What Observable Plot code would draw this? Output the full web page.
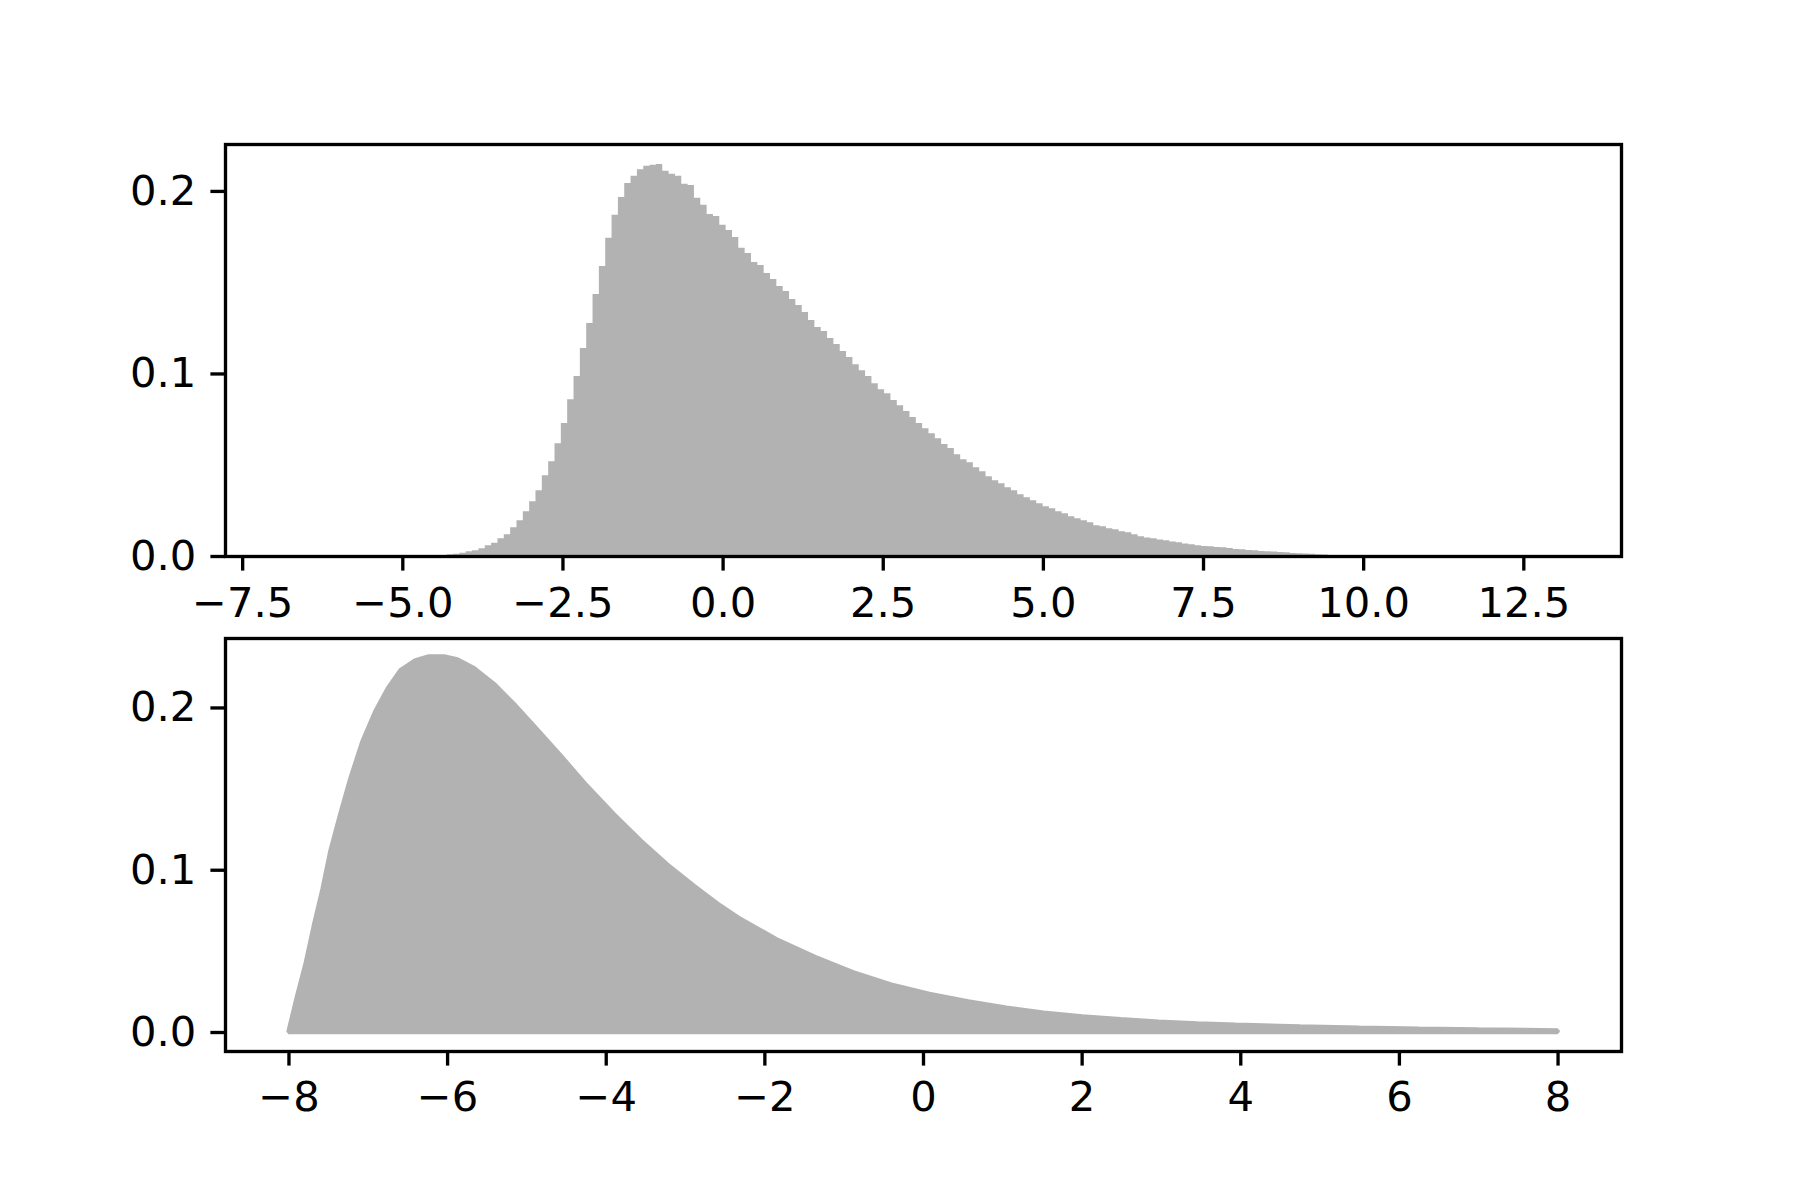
<!DOCTYPE html>
<html>
<head>
<meta charset="utf-8">
<script src="https://cdn.jsdelivr.net/npm/d3@7"></script>
<script src="https://cdn.jsdelivr.net/npm/@observablehq/plot@0.6"></script>
<style>
  html, body { margin: 0; padding: 0; background: #ffffff; }
  #wrap { position: relative; width: 1800px; height: 1200px; background: #ffffff; }
  #top, #bottom { position: absolute; left: 0; }
  #top { top: 0; }
  #bottom { top: 630px; }
</style>
</head>
<body>
<div id="wrap"><div id="top"></div><div id="bottom"></div></div>
<script>
// ---- Top panel: histogram (density), 200 equal bins ----
const binStart = -6.78;
const binWidth = 0.09895;
const histDensity = [
  0.00005, 0, 0, 0, 0, 0, 0, 0, 0, 0,
  0, 0, 0, 0, 0, 0.00005, 0.00005, 0.0001, 0.0001, 0.0001,
  0.0001, 0.0002, 0.0003, 0.0004, 0.0005, 0.0009, 0.0013, 0.0018, 0.0026, 0.0031,
  0.0042, 0.0059, 0.0073, 0.0097, 0.0119, 0.0157, 0.0196, 0.0245, 0.0300, 0.0360,
  0.0442, 0.0519, 0.0618, 0.0728, 0.0859, 0.0986, 0.1139, 0.1276, 0.1435, 0.1589,
  0.1743, 0.1869, 0.1967, 0.2044, 0.2083, 0.2119, 0.2138, 0.2143, 0.2148, 0.2110,
  0.2094, 0.2083, 0.2039, 0.2033, 0.1962, 0.1924, 0.1874, 0.1863, 0.1814, 0.1786,
  0.1748, 0.1688, 0.1660, 0.1611, 0.1594, 0.1551, 0.1518, 0.1479, 0.1452, 0.1408,
  0.1375, 0.1337, 0.1293, 0.1254, 0.1232, 0.1194, 0.1161, 0.1123, 0.1090, 0.1051,
  0.1018, 0.0986, 0.0947, 0.0914, 0.0892, 0.0854, 0.0826, 0.0794, 0.0761, 0.0728,
  0.0700, 0.0673, 0.0645, 0.0613, 0.0591, 0.0558, 0.0530, 0.0514, 0.0486, 0.0464,
  0.0437, 0.0415, 0.0399, 0.0377, 0.0360, 0.0338, 0.0322, 0.0305, 0.0289, 0.0272,
  0.0261, 0.0245, 0.0234, 0.0218, 0.0207, 0.0196, 0.0185, 0.0168, 0.0163, 0.0152,
  0.0146, 0.0135, 0.0130, 0.0119, 0.0108, 0.0102, 0.0097, 0.0091, 0.0086, 0.0080,
  0.0075, 0.0069, 0.0064, 0.0059, 0.0055, 0.0053, 0.0049, 0.0048, 0.0044, 0.0038,
  0.0037, 0.0033, 0.0031, 0.0027, 0.0026, 0.0025, 0.0022, 0.0020, 0.0016, 0.0015,
  0.0014, 0.0013, 0.0009, 0.0008, 0.0006, 0.0004, 0.0003, 0.0003, 0.0002, 0.0002,
  0.0002, 0.0001, 0.0001, 0.0001, 0.0001, 0.0001, 0.00005, 0.00005, 0.00005, 0.00005,
  0, 0, 0, 0, 0, 0, 0, 0, 0, 0,
  0, 0, 0, 0, 0, 0, 0, 0, 0, 0.00005
];
const topXTicks = [-7.5, -5.0, -2.5, 0.0, 2.5, 5.0, 7.5, 10.0, 12.5];
const topYTicks = [0.0, 0.1, 0.2];

// ---- Bottom panel: filled density curve ----
const curveX = [-8.00, -7.89, -7.78, -7.68, -7.57, -7.47, -7.34, -7.22, -7.07, -6.90,
  -6.75, -6.59, -6.40, -6.23, -6.04, -5.87, -5.66, -5.41, -5.16, -4.91,
  -4.57, -4.24, -3.90, -3.56, -3.23, -2.89, -2.56, -2.33, -1.85, -1.36,
  -0.88, -0.40, 0.08, 0.57, 1.05, 1.52, 2.01, 2.49, 2.97, 3.46,
  3.94, 4.75, 5.50, 6.25, 7.00, 8.00];
const curveY = [0.0000, 0.0222, 0.0428, 0.0654, 0.0880, 0.1117, 0.1354, 0.1560, 0.1786, 0.1980,
  0.2115, 0.2228, 0.2290, 0.2314, 0.2314, 0.2296, 0.2242, 0.2145, 0.2022, 0.1889,
  0.1704, 0.1518, 0.1343, 0.1179, 0.1034, 0.0901, 0.0780, 0.0705, 0.0572, 0.0462,
  0.0368, 0.0292, 0.0234, 0.0188, 0.0149, 0.0119, 0.0096, 0.0078, 0.0064, 0.0053,
  0.0045, 0.0034, 0.0026, 0.0020, 0.0015, 0.0010];
const bottomXTicks = [-8, -6, -4, -2, 0, 2, 4, 6, 8];
const bottomYTicks = [0.0, 0.1, 0.2];

// ---- build tables ----
const histRows = histDensity.map((d, i) => ({x: binStart + i * binWidth, y: d}));
histRows.push({x: binStart + histDensity.length * binWidth, y: histDensity[histDensity.length - 1]});
const curveRows = curveX.map((x, i) => ({x, y: curveY[i]}));

const FILL = "#b2b2b2";
const FONT = 41.7;
const TICK = 14.6;
const LW = 3.33;

const common = {
  width: 1800,
  marginLeft: 225,
  marginRight: 179,
  style: {fontFamily: "'DejaVu Sans', sans-serif", fontSize: FONT + "px", color: "#000", background: "transparent", overflow: "visible"}
};

const topPlot = Plot.plot({
  ...common,
  height: 630,
  marginTop: 144,
  marginBottom: 74,
  x: {domain: [-7.768, 14.025]},
  y: {domain: [0, 0.2257]},
  marks: [
    Plot.areaY(histRows, {x: "x", y: "y", curve: "step-after", fill: FILL}),
    Plot.axisX({ticks: topXTicks, tickFormat: d3.format(".1f"), tickSize: TICK, tickPadding: 16, strokeWidth: LW, fontSize: FONT, label: null}),
    Plot.axisY({ticks: topYTicks, tickFormat: d3.format(".1f"), tickSize: TICK, tickPadding: 14.6, strokeWidth: LW, fontSize: FONT, label: null}),
    Plot.frame({stroke: "#000", strokeWidth: LW})
  ]
});
document.getElementById("top").appendChild(topPlot);

const bottomPlot = Plot.plot({
  ...common,
  height: 570,
  marginTop: 8,
  marginBottom: 149,
  x: {domain: [-8.8, 8.8]},
  y: {domain: [-0.0117, 0.2428]},
  marks: [
    Plot.areaY(curveRows, {x: "x", y: "y", fill: FILL, stroke: FILL, strokeWidth: 4.5, strokeLinejoin: "miter"}),
    Plot.axisX({ticks: bottomXTicks, tickFormat: d3.format("d"), tickSize: TICK, tickPadding: 15, strokeWidth: LW, fontSize: FONT, label: null}),
    Plot.axisY({ticks: bottomYTicks, tickFormat: d3.format(".1f"), tickSize: TICK, tickPadding: 14.6, strokeWidth: LW, fontSize: FONT, label: null}),
    Plot.frame({stroke: "#000", strokeWidth: LW})
  ]
});
document.getElementById("bottom").appendChild(bottomPlot);
</script>
</body>
</html>
